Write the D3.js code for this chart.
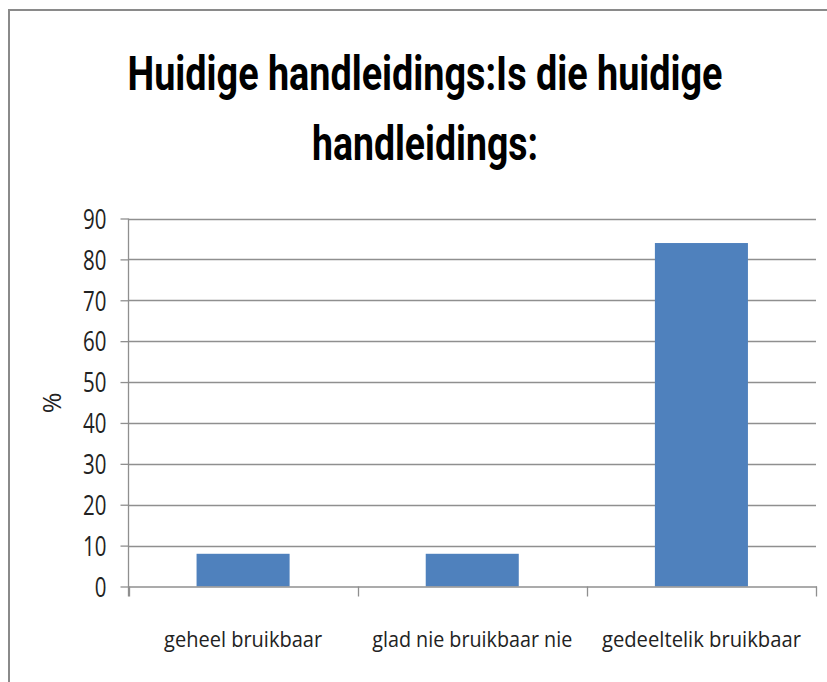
<!DOCTYPE html>
<html>
<head>
<meta charset="utf-8">
<script src="https://cdn.jsdelivr.net/npm/d3@7"></script>
<style>
  html, body { margin: 0; padding: 0; background: #fff; }
  svg { display: block; }
</style>
</head>
<body>
<div id="chart"></div>
<script>
const categories = ["geheel bruikbaar", "glad nie bruikbaar nie", "gedeeltelik bruikbaar"];
const values = [8, 8, 84];
const yTicks = [0, 10, 20, 30, 40, 50, 60, 70, 80, 90];
const titleLines = ["Huidige handleidings:Is die huidige", "handleidings:"];
const yLabel = "%";

(function () {
const W = 827, H = 682;
const svg = d3.select("#chart").append("svg").attr("width", W).attr("height", H);

// chart area border (top and left visible)
svg.append("rect")
  .attr("x", 9).attr("y", 10).attr("width", W + 20).attr("height", H + 20)
  .attr("fill", "#fff").attr("stroke", "#8a8a8a").attr("stroke-width", 2);

const pL = 128.5, pR = 816, pT = 218.5, pB = 586.5;

const x = d3.scaleBand().domain(categories).range([pL, pR])
  .paddingInner(0.594).paddingOuter(0.297);
const y = d3.scaleLinear().domain([0, 90]).range([pB, pT]);

// title (vertically stretched like the reference)
const titleFont = "Roboto, 'Open Sans', sans-serif";
const titleW = [595, 226];
const titleY = [90, 160];
titleLines.forEach((t, i) => {
  svg.append("text")
    .attr("transform", `translate(425,${titleY[i]}) scale(1,1.4)`)
    .attr("text-anchor", "middle")
    .attr("font-family", titleFont)
    .attr("font-weight", "bold")
    .attr("font-size", 35)
    .attr("textLength", titleW[i])
    .attr("lengthAdjust", "spacingAndGlyphs")
    .attr("fill", "#000")
    .text(t);
});

// gridlines
svg.append("g").selectAll("line").data(yTicks.filter(d => d > 0)).join("line")
  .attr("x1", pL).attr("x2", pR)
  .attr("y1", d => Math.round(y(d)) + 0.5).attr("y2", d => Math.round(y(d)) + 0.5)
  .attr("stroke", "#8f8f8f").attr("stroke-width", 1.3);

// y axis
const yAxis = d3.axisLeft(y).tickValues(yTicks).tickSize(8).tickPadding(14);
const gy = svg.append("g").attr("transform", `translate(${pL},0)`).call(yAxis);
gy.select(".domain").attr("stroke", "#8f8f8f").attr("stroke-width", 1.3)
  .attr("d", `M0,${pT}V${pB + 10}`);
gy.selectAll(".tick line").attr("stroke", "#8f8f8f").attr("stroke-width", 1.3);
gy.selectAll(".tick text")
  .attr("font-family", "'Open Sans', 'DejaVu Sans', sans-serif")
  .attr("font-size", 27)
  .attr("fill", "#222")
  .attr("dy", "0.36em")
  .attr("textLength", d => String(d).length * 11.7)
  .attr("lengthAdjust", "spacingAndGlyphs");

// bars
svg.append("g").selectAll("rect").data(values).join("rect")
  .attr("x", (d, i) => x(categories[i]))
  .attr("y", d => y(d))
  .attr("width", x.bandwidth())
  .attr("height", d => y(0) - y(d))
  .attr("fill", "#4f81bd");

// x axis
const boundaries = [pL, ...categories.map(c => x(c) + x.bandwidth() / 2 + x.step() / 2)];
const gx = svg.append("g");
gx.append("line").attr("x1", pL).attr("x2", pR + 1)
  .attr("y1", pB + 0.5).attr("y2", pB + 0.5)
  .attr("stroke", "#8f8f8f").attr("stroke-width", 1.3);
gx.selectAll("line.tk").data(boundaries).join("line").attr("class", "tk")
  .attr("x1", d => Math.round(d) + 0.5).attr("x2", d => Math.round(d) + 0.5)
  .attr("y1", pB).attr("y2", pB + 10)
  .attr("stroke", "#8f8f8f").attr("stroke-width", 1.3);

const xLabelW = [158, 200, 199];
gx.selectAll("text").data(categories).join("text")
  .attr("transform", d => `translate(${x(d) + x.bandwidth() / 2},647) scale(1,1.3)`)
  .attr("text-anchor", "middle")
  .attr("font-family", "'Open Sans', 'DejaVu Sans', sans-serif")
  .attr("font-size", 17)
  .attr("fill", "#222")
  .attr("textLength", (d, i) => xLabelW[i])
  .attr("lengthAdjust", "spacingAndGlyphs")
  .text(d => d);

// y label
svg.append("text")
  .attr("transform", "translate(61,403) rotate(-90)")
  .attr("text-anchor", "middle")
  .attr("font-family", "'Open Sans', 'DejaVu Sans', sans-serif")
  .attr("font-size", 25)
  .attr("fill", "#222")
  .text(yLabel);
})();
</script>
</body>
</html>
